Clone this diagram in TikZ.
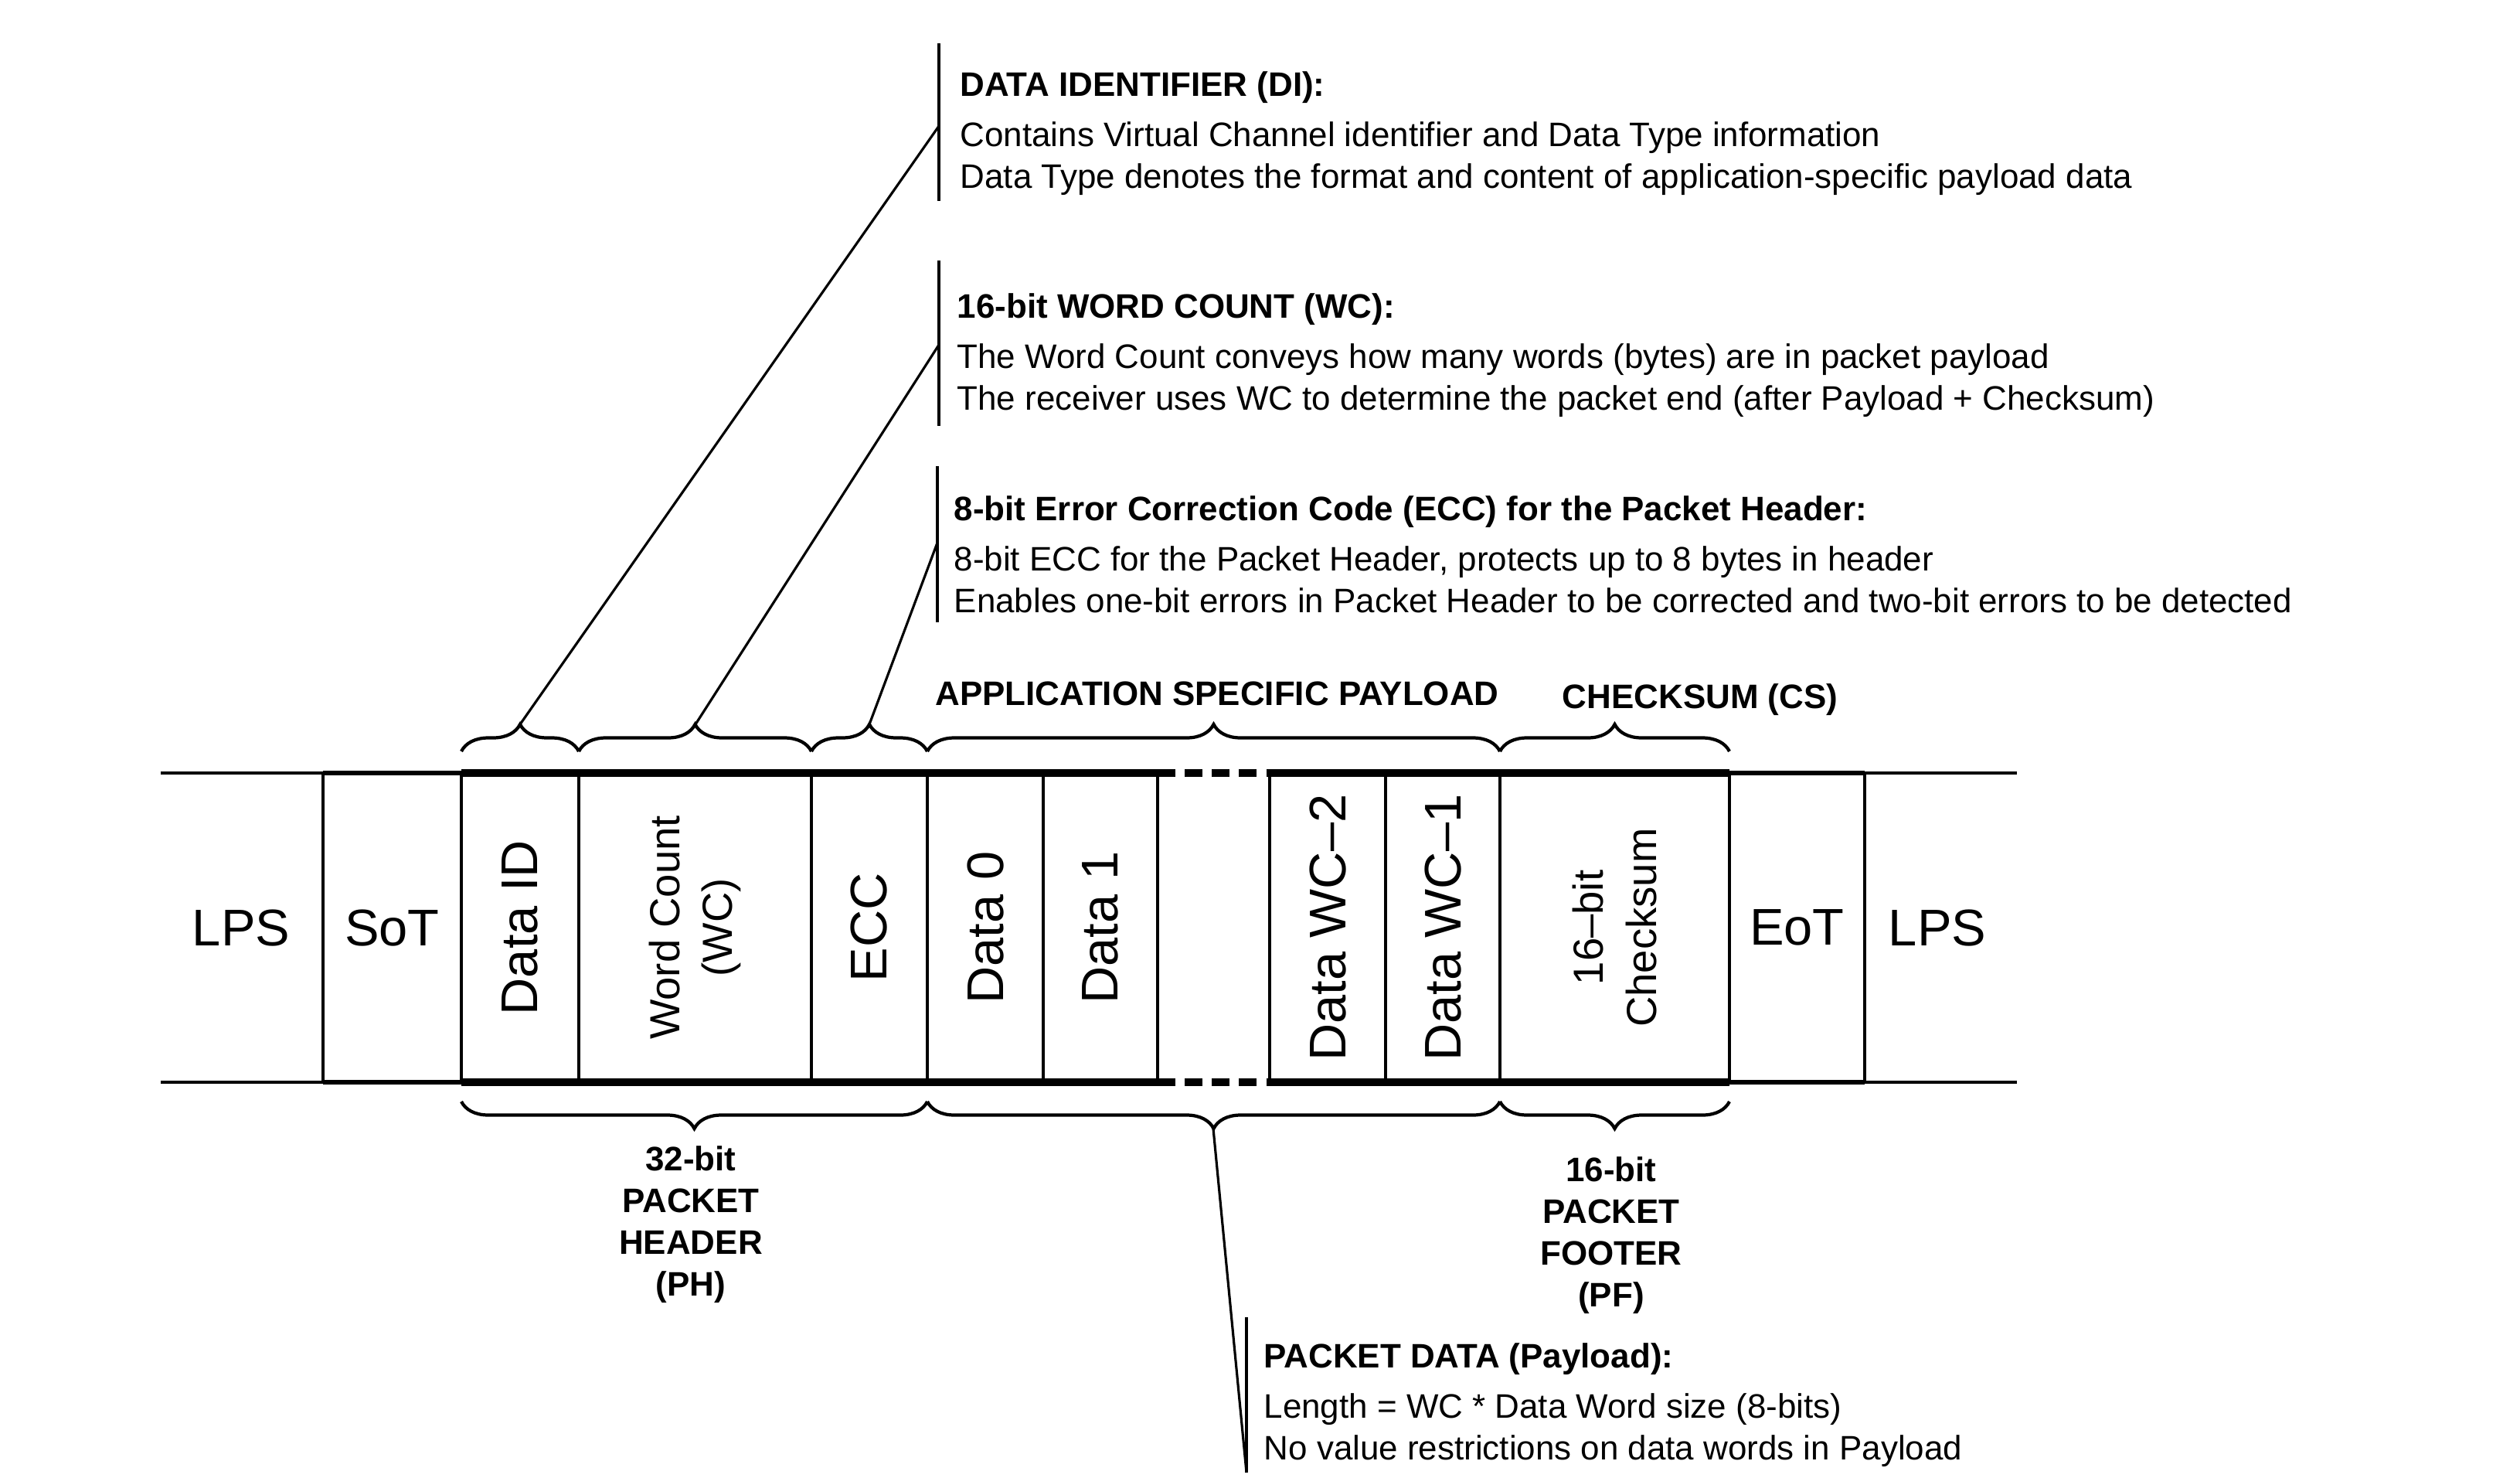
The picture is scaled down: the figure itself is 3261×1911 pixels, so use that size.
\documentclass[tikz,border=0pt]{standalone}
\usepackage{fontspec}
\setmainfont{Liberation Sans}
\usetikzlibrary{decorations.pathreplacing,fit,calc}
\begin{document}
\begin{tikzpicture}[x=0.1mm,y=-0.1mm,
  cell/.style={inner sep=0,outer sep=0,draw=none},
  divider/.style={line width=1.3pt},
  thinband/.style={line width=1pt},
  midband/.style={line width=1.6pt},
  thickband/.style={line width=2.6pt},
  gapband/.style={line width=2.6pt,dash pattern=on 6.5pt off 3.5pt},
  topbrace/.style={decorate,decoration={brace,amplitude=3.5mm},line width=1.2pt},
  botbrace/.style={decorate,decoration={brace,amplitude=3.5mm,mirror},line width=1.2pt},
  leader/.style={line width=0.9pt},
  bar/.style={line width=1.1pt},
  blk/.style={inner sep=0,font=\fontsize{19}{22}\selectfont},
  vblk/.style={blk,rotate=90},
  vblktwo/.style={inner sep=0,rotate=90,align=center,font=\fontsize{15.5}{19.5}\selectfont},
  desc/.style={anchor=north west,align=left,inner sep=0,font=\fontsize{12.5}{15.4}\selectfont},
  brlabel/.style={inner sep=0,align=center,font=\fontsize{12.5}{15.4}\selectfont\bfseries},
]
\useasboundingbox (0,0) rectangle (3261,1911);

% ---- cells of the packet band
\node[cell,fit={(418,1000) (597,1400)}] (sot) {};
\node[cell,fit={(597,1000) (749,1400)}] (did) {};
\node[cell,fit={(749,1000) (1050,1400)}] (wc) {};
\node[cell,fit={(1050,1000) (1200,1400)}] (ecc) {};
\node[cell,fit={(1200,1000) (1350,1400)}] (d0) {};
\node[cell,fit={(1350,1000) (1498,1400)}] (d1) {};
\node[cell,fit={(1643,1000) (1793,1400)}] (dw2) {};
\node[cell,fit={(1793,1000) (1941,1400)}] (dw1) {};
\node[cell,fit={(1941,1000) (2238,1400)}] (cs) {};
\node[cell,fit={(2238,1000) (2413,1400)}] (eot) {};

\coordinate (lpsLT) at (208,1000);
\coordinate (lpsLB) at (208,1400);
\coordinate (lpsRT) at (2610,1000);
\coordinate (lpsRB) at (2610,1400);

% ---- band lines
\draw[thinband] (lpsLT) -- (sot.north west);
\draw[thinband] (lpsLB) -- (sot.south west);
\draw[midband] (sot.north west) -- (did.north west);
\draw[midband] (sot.south west) -- (did.south west);
\draw[thickband] (did.north west) -- (d1.north east);
\draw[thickband] (did.south west) -- (d1.south east);
\draw[gapband] (d1.north east) -- (dw2.north west);
\draw[gapband] (d1.south east) -- (dw2.south west);
\draw[thickband] (dw2.north west) -- (cs.north east);
\draw[thickband] (dw2.south west) -- (cs.south east);
\draw[midband] (cs.north east) -- (eot.north east);
\draw[midband] (cs.south east) -- (eot.south east);
\draw[thinband] (eot.north east) -- (lpsRT);
\draw[thinband] (eot.south east) -- (lpsRB);

% ---- dividers
\foreach \c in {sot,did,wc,ecc,d0,d1,dw2,dw1,cs,eot}
  \draw[divider] (\c.north west) -- (\c.south west);
\draw[divider] (d1.north east) -- (d1.south east);
\draw[divider] (eot.north east) -- (eot.south east);

% ---- cell labels
\node[blk] (lpsl) at (312,1200) {LPS};
\node[blk] (sotl) at (sot) {SoT};
\node[vblk] (didl) at (did) {Data ID};
\node[vblktwo] (wcl) at (wc) {Word Count\\(WC)};
\node[vblk] (eccl) at (ecc) {ECC};
\node[vblk] (d0l) at (d0) {Data 0};
\node[vblk] (d1l) at (d1) {Data 1};
\node[vblk] (dw2l) at (dw2) {Data WC–2};
\node[vblk] (dw1l) at (dw1) {Data WC–1};
\node[vblktwo] (csl) at (cs) {16–bit\\Checksum};
\node[blk] (eotl) at (eot) {EoT};
\node[blk] (lpsr) at (2507,1200) {LPS};

% ---- braces
\draw[topbrace] (597,972) -- (749,972);
\draw[topbrace] (749,972) -- (1050,972);
\draw[topbrace] (1050,972) -- (1200,972);
\draw[topbrace] (1200,972) -- (1941,972);
\draw[topbrace] (1941,972) -- (2238,972);
\draw[botbrace] (597,1425) -- (1200,1425);
\draw[botbrace] (1200,1425) -- (1941,1425);
\draw[botbrace] (1941,1425) -- (2238,1425);

\coordinate (tDI) at (673,937);
\coordinate (tWC) at (900,937);
\coordinate (tECC) at (1125,937);
\coordinate (tPL) at (1570,1460);

% ---- brace labels
\node[brlabel] (apl) at (1575,897) {APPLICATION SPECIFIC PAYLOAD};
\node[brlabel] (csb) at (2200,905) {CHECKSUM (CS)};
\node[brlabel,anchor=north] (ph) at (894,1482) {32-bit\\PACKET\\HEADER\\(PH)};
\node[brlabel,anchor=north] (pf) at (2085,1496) {16-bit\\PACKET\\FOOTER\\(PF)};

% ---- annotation bars and leaders
\coordinate (diTop) at (1215,56);  \coordinate (diBot) at (1215,260); \coordinate (diJ) at (1215,163);
\coordinate (wcTop) at (1215,337); \coordinate (wcBot) at (1215,551); \coordinate (wcJ) at (1215,446);
\coordinate (ecTop) at (1213,603); \coordinate (ecBot) at (1213,805); \coordinate (ecJ) at (1213,702);
\coordinate (plTop) at (1613,1704); \coordinate (plBot) at (1613,1905);
\draw[bar] (diTop) -- (diBot);
\draw[bar] (wcTop) -- (wcBot);
\draw[bar] (ecTop) -- (ecBot);
\draw[bar] (plTop) -- (plBot);
\draw[leader] (tDI) -- (diJ);
\draw[leader] (tWC) -- (wcJ);
\draw[leader] (tECC) -- (ecJ);
\draw[leader] (tPL) -- (plBot);

% ---- annotation texts
\node[desc] (di) at (1242,92) {\textbf{DATA IDENTIFIER (DI):}\\[3pt]Contains Virtual Channel identifier and Data Type information\\Data Type denotes the format and content of application-specific payload data};
\node[desc] (wct) at (1238,379) {\textbf{16-bit WORD COUNT (WC):}\\[3pt]The Word Count conveys how many words (bytes) are in packet payload\\The receiver uses WC to determine the packet end (after Payload + Checksum)};
\node[desc] (ect) at (1234,641) {\textbf{8-bit Error Correction Code (ECC) for the Packet Header:}\\[3pt]8-bit ECC for the Packet Header, protects up to 8 bytes in header\\Enables one-bit errors in Packet Header to be corrected and two-bit errors to be detected};
\node[desc] (plt) at (1635,1737) {\textbf{PACKET DATA (Payload):}\\[3pt]Length = WC * Data Word size (8-bits)\\No value restrictions on data words in Payload};
\end{tikzpicture}
\end{document}
